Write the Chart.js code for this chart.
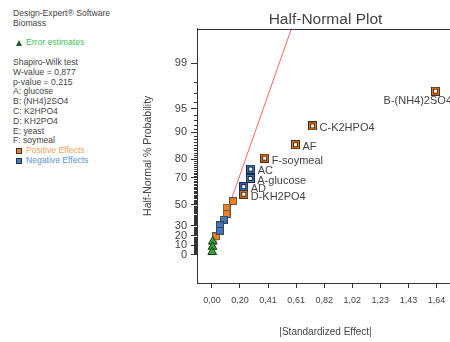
<!DOCTYPE html>
<html lang="en">
<head>
<meta charset="UTF-8">
<title>Half-Normal Plot</title>
<script src="https://cdn.jsdelivr.net/npm/chart.js@4"></script>
<style>
  html, body { margin: 0; padding: 0; background: #fff; overflow: hidden; }
  body { width: 450px; height: 342px; position: relative; font-family: 'Liberation Sans', Arial, sans-serif; }
  #wrap { position: absolute; left: 0; top: 0; width: 460px; height: 342px; }
  #side { position: absolute; left: 13px; top: 9px; font-size: 8.6px; line-height: 9.8px; color: #444; white-space: nowrap; }
  #side .ind { padding-left: 13px; position: relative; }
  #side .green { color: #3cc45a; }
  #side .orange { color: #f5a05c; }
  #side .blue { color: #5b95d6; }
  .tri { position: absolute; left: 3px; top: 2px; width: 0; height: 0;
         border-left: 3px solid transparent; border-right: 3px solid transparent; border-bottom: 6px solid #1f5a25; }
  .sq { position: absolute; left: 3px; top: 2px; width: 4px; height: 4px; border: 1px solid #333; }
</style>
</head>
<body>
<div id="side">
  <div>Design-Expert® Software</div>
  <div>Biomass</div>
  <div>&nbsp;</div>
  <div class="ind green"><span class="tri"></span>Error estimates</div>
  <div>&nbsp;</div>
  <div>Shapiro-Wilk test</div>
  <div>W-value = 0,877</div>
  <div>p-value = 0,215</div>
  <div>A: glucose</div>
  <div>B: (NH4)2SO4</div>
  <div>C: K2HPO4</div>
  <div>D: KH2PO4</div>
  <div>E: yeast</div>
  <div>F: soymeal</div>
  <div class="ind orange"><span class="sq" style="background:#f0801e"></span>Positive Effects</div>
  <div class="ind blue"><span class="sq" style="background:#3a78c8"></span>Negative Effects</div>
</div>
<div id="wrap"><canvas id="chart" width="460" height="342"></canvas></div>
<script>
// effects: |standardized effect| and half-normal % probability
const posNamed = ['B-(NH4)2SO4', 'C-K2HPO4', 'AF', 'F-soymeal', 'D-KH2PO4'];
const posNamedX = [1.633, 0.735, 0.610, 0.385, 0.232];
const posNamedY = [97.22, 91.67, 86.11, 80.56, 58.33];

const negNamed = ['AC', 'A-glucose', 'AD'];
const negNamedX = [0.283, 0.280, 0.232];
const negNamedY = [75.0, 69.44, 63.89];

const posX = [0.155, 0.107, 0.107, 0.031];
const posY = [52.78, 47.22, 41.67, 19.44];

const negX = [0.087, 0.058, 0.058];
const negY = [36.11, 30.56, 25.0];

const errX = [0.006, 0.004, 0.002];
const errY = [13.89, 8.33, 2.78];

const fitX = [0, 0.59];
const fitY = [0, 99.8];

const xTicks = [0, 0.205, 0.41, 0.615, 0.82, 1.025, 1.23, 1.435, 1.64];
const xTickLabels = ['0,00', '0,20', '0,41', '0,61', '0,82', '1,02', '1,23', '1,43', '1,64'];
const yTicks = [0, 10, 20, 30, 50, 70, 80, 90, 95, 99];

const pts = (xs, ys) => xs.map((x, i) => ({ x: x, y: ys[i] }));

// inverse normal cdf (Acklam)
function probit(q) {
  const a = [-3.969683028665376e+01, 2.209460984245205e+02, -2.759285104469687e+02, 1.383577518672690e+02, -3.066479806614716e+01, 2.506628277459239e+00];
  const b = [-5.447609879822406e+01, 1.615858368580409e+02, -1.556989798598866e+02, 6.680131188771972e+01, -1.328068155288572e+01];
  const c = [-7.784894002430293e-03, -3.223964580411365e-01, -2.400758277161838e+00, -2.549671664069115e+00, 4.374664141464968e+00, 2.938163982698783e+00];
  const d = [7.784695709041462e-03, 3.224671290700398e-01, 2.445134137142996e+00, 3.754408661907416e+00];
  const pl = 0.02425;
  if (q < pl) {
    const r = Math.sqrt(-2 * Math.log(q));
    return (((((c[0]*r+c[1])*r+c[2])*r+c[3])*r+c[4])*r+c[5]) / ((((d[0]*r+d[1])*r+d[2])*r+d[3])*r+1);
  }
  if (q > 1 - pl) {
    const r = Math.sqrt(-2 * Math.log(1 - q));
    return -(((((c[0]*r+c[1])*r+c[2])*r+c[3])*r+c[4])*r+c[5]) / ((((d[0]*r+d[1])*r+d[2])*r+d[3])*r+1);
  }
  const r = q - 0.5, s = r * r;
  return (((((a[0]*s+a[1])*s+a[2])*s+a[3])*s+a[4])*s+a[5])*r / (((((b[0]*s+b[1])*s+b[2])*s+b[3])*s+b[4])*s+1);
}
function ncdf(z) {
  const t = 1 / (1 + 0.2316419 * Math.abs(z));
  const p = 0.3989423 * Math.exp(-z * z / 2) * t * (0.3193815 + t * (-0.3565638 + t * (1.781478 + t * (-1.821256 + t * 1.330274))));
  return z > 0 ? 1 - p : p;
}
// half-normal score of a % probability (negative values mirror below zero)
const hn = p => (p < 0 ? -1 : 1) * probit(0.5 + Math.min(Math.abs(p), 99.999) / 200);
const hnInv = z => (z < 0 ? -1 : 1) * (2 * ncdf(Math.abs(z)) - 1) * 100;

class HalfNormalScale extends Chart.Scale {
  determineDataLimits() {
    this.min = this.options.min;
    this.max = this.options.max;
  }
  buildTicks() {
    return yTicks.map(v => ({ value: v }));
  }
  getLabelForValue(v) {
    return String(v);
  }
  configure() {
    super.configure();
    this._lo = hn(this.min);
    this._hi = hn(this.max);
  }
  getPixelForValue(v) {
    return this.getPixelForDecimal((hn(v) - this._lo) / (this._hi - this._lo));
  }
  getValueForPixel(px) {
    return hnInv(this._lo + this.getDecimalForPixel(px) * (this._hi - this._lo));
  }
}
HalfNormalScale.id = 'halfnormal';
HalfNormalScale.defaults = {};
Chart.register(HalfNormalScale);

function square(fill, edge, hollow, size) {
  const c = document.createElement('canvas');
  c.width = c.height = size;
  const g = c.getContext('2d');
  g.fillStyle = edge;
  g.fillRect(0, 0, size, size);
  g.fillStyle = fill;
  g.fillRect(1, 1, size - 2, size - 2);
  if (hollow) {
    g.fillStyle = edge;
    g.fillRect(2, 2, size - 4, size - 4);
    g.fillStyle = '#fff';
    g.fillRect(3, 3, size - 6, size - 6);
  }
  return c;
}

const ORANGE = '#f0801e', BLUE = '#3a78c8';

const frame = {
  id: 'frame',
  afterDraw(chart) {
    const { ctx, chartArea: a } = chart;
    const y = chart.scales.y;
    ctx.save();
    ctx.strokeStyle = '#333';
    ctx.lineWidth = 1;
    ctx.strokeRect(Math.round(a.left) + 0.5, Math.round(a.top) + 0.5, Math.round(a.right - a.left), Math.round(a.bottom - a.top));
    // minor probability ticks, every 1 %
    ctx.beginPath();
    for (let p = 1; p < 99; p++) {
      if (yTicks.includes(p)) continue;
      const py = Math.round(y.getPixelForValue(p)) + 0.5;
      ctx.moveTo(a.left - 3, py);
      ctx.lineTo(a.left, py);
    }
    ctx.stroke();
    ctx.restore();
  }
};

const names = {
  id: 'names',
  afterDatasetsDraw(chart) {
    const { ctx, chartArea: a } = chart;
    ctx.save();
    ctx.font = '11px "Liberation Sans", Arial, sans-serif';
    ctx.fillStyle = '#444';
    ctx.textBaseline = 'middle';
    chart.data.datasets.forEach((ds, di) => {
      if (!ds.pointNames) return;
      chart.getDatasetMeta(di).data.forEach((el, i) => {
        const t = ds.pointNames[i];
        const w = ctx.measureText(t).width;
        let x = el.x + 7, y = el.y + 2.3;
        if (x + w > a.right) { x = a.right - w - 2; y = el.y + 10; }
        ctx.fillText(t, x, y);
      });
    });
    ctx.restore();
  }
};

new Chart(document.getElementById('chart'), {
  type: 'scatter',
  data: {
    datasets: [
      { data: pts(fitX, fitY), showLine: true, borderColor: '#f06868', borderWidth: 1, pointRadius: 0, order: 10 },
      { data: pts(errX, errY), pointStyle: 'triangle', radius: 5, backgroundColor: '#2fa83c', borderColor: '#163a18', borderWidth: 1 },
      { data: pts(negX, negY), pointStyle: square(BLUE, '#444', false, 8) },
      { data: pts(posX, posY), pointStyle: square(ORANGE, '#555', false, 8) },
      { data: pts(negNamedX, negNamedY), pointStyle: square(BLUE, '#1e2a44', true, 9), pointNames: negNamed },
      { data: pts(posNamedX, posNamedY), pointStyle: square(ORANGE, '#4a2e1a', true, 9), pointNames: posNamed }
    ]
  },
  options: {
    responsive: false,
    animation: false,
    events: [],
    layout: { padding: { left: 140, right: 5, top: 0, bottom: 0 } },
    plugins: {
      legend: { display: false },
      tooltip: { enabled: false },
      title: {
        display: true, text: 'Half-Normal Plot', fullSize: false, color: '#444',
        font: { family: '"Liberation Sans", Arial, sans-serif', size: 15.5, weight: 'normal' },
        padding: { top: 10, bottom: 0 }
      }
    },
    scales: {
      x: {
        type: 'linear', min: -0.109, max: 1.768,
        afterBuildTicks: s => { s.ticks = xTicks.map(v => ({ value: v })); },
        afterFit: s => { s.height = 59; },
        ticks: { callback: (v, i) => xTickLabels[i], color: '#444', padding: 7, maxRotation: 0, autoSkip: false,
                 font: { family: '"Liberation Sans", Arial, sans-serif', size: 9 } },
        grid: { drawOnChartArea: false, tickLength: 5, color: '#333' },
        border: { color: '#333' },
        title: { display: true, text: '|Standardized Effect|', color: '#444', padding: { top: 0, bottom: 4 },
                 font: { family: '"Liberation Sans", Arial, sans-serif', size: 10 } }
      },
      y: {
        type: 'halfnormal', min: -29.8, max: 99.765,
        afterFit: s => { s.width = 57; },
        ticks: { color: '#444', padding: 4, font: { family: '"Liberation Sans", Arial, sans-serif', size: 11 } },
        grid: { drawOnChartArea: false, tickLength: 6, color: '#333' },
        border: { color: '#333' },
        title: { display: true, text: 'Half-Normal % Probability', color: '#444', padding: { top: 2, bottom: 0 },
                 font: { family: '"Liberation Sans", Arial, sans-serif', size: 10.5 } }
      }
    }
  },
  plugins: [frame, names]
});
</script>
</body>
</html>
